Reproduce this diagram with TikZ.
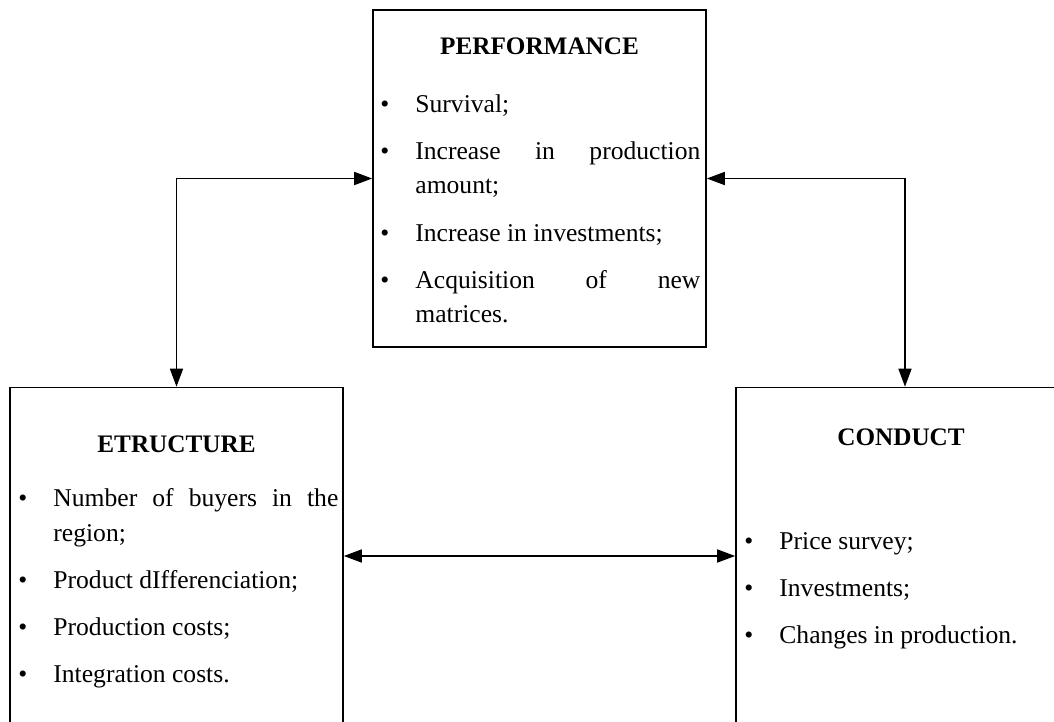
\documentclass[tikz,border=0pt]{standalone}
\usepackage{fontspec}
\setmainfont{Liberation Serif}
\usetikzlibrary{arrows.meta}

% bullet list with the bullet flush left, no hyphenation
\newenvironment{bullets}{%
  \hyphenpenalty=10000\exhyphenpenalty=10000
  \begin{list}{\textbullet}{%
    \setlength{\leftmargin}{17.5pt}\setlength{\labelwidth}{17.5pt}%
    \setlength{\labelsep}{0pt}\setlength{\itemsep}{6pt}%
    \setlength{\parsep}{0pt}\setlength{\topsep}{0pt}%
    \renewcommand{\makelabel}[1]{##1\hfil}}}%
  {\end{list}}

\begin{document}
\begin{tikzpicture}[
  x=0.5pt, y=-0.5pt,
  box/.style={draw, line width=0.8pt, inner sep=0pt, minimum width=166.5pt, minimum height=168.5pt},
  head/.style={font=\fontsize{12.6}{17.5}\selectfont\bfseries, anchor=base, inner sep=0pt},
  items/.style={font=\fontsize{12.8}{17.5}\selectfont, text width=160pt, align=justify, inner sep=0pt, anchor=base west},
  arr/.style={{Triangle[length=9pt,width=6.5pt]}-{Triangle[length=9pt,width=6.5pt]}, line width=0.8pt}
]
\useasboundingbox (0,0) rectangle (1054,722);
\clip (0,0) rectangle (1054,722);

\node[box] (perf) at (539.5,178.5) {};
\node[box] (struct) at (176.5,556) {};
\node[box, minimum width=169pt] (cond) at (905,556) {};

\node[head] (perfhead) at (539.5,55) {PERFORMANCE};
\node[items] (perflist) at (380,77) {\begin{bullets}
  \item Survival;
  \item Increase in production amount;
  \item Increase in investments;
  \item Acquisition of new matrices.
\end{bullets}};

\node[head] (structhead) at (176.5,452) {ETRUCTURE};
\node[items] (structlist) at (18,471) {\begin{bullets}
  \item Number of buyers in the region;
  \item Product dIfferenciation;
  \item Production costs;
  \item Integration costs.
\end{bullets}};

\node[head] (condhead) at (901,445) {CONDUCT};
\node[items] (condlist) at (744,514) {\begin{bullets}
  \item Price survey;
  \item Investments;
  \item Changes in production.
\end{bullets}};

\draw[arr] (perf.west) -| (struct.north);
\draw[arr] (perf.east) -| (cond.north);
\draw[arr] (struct.east) -- (cond.west);
\end{tikzpicture}
\end{document}
